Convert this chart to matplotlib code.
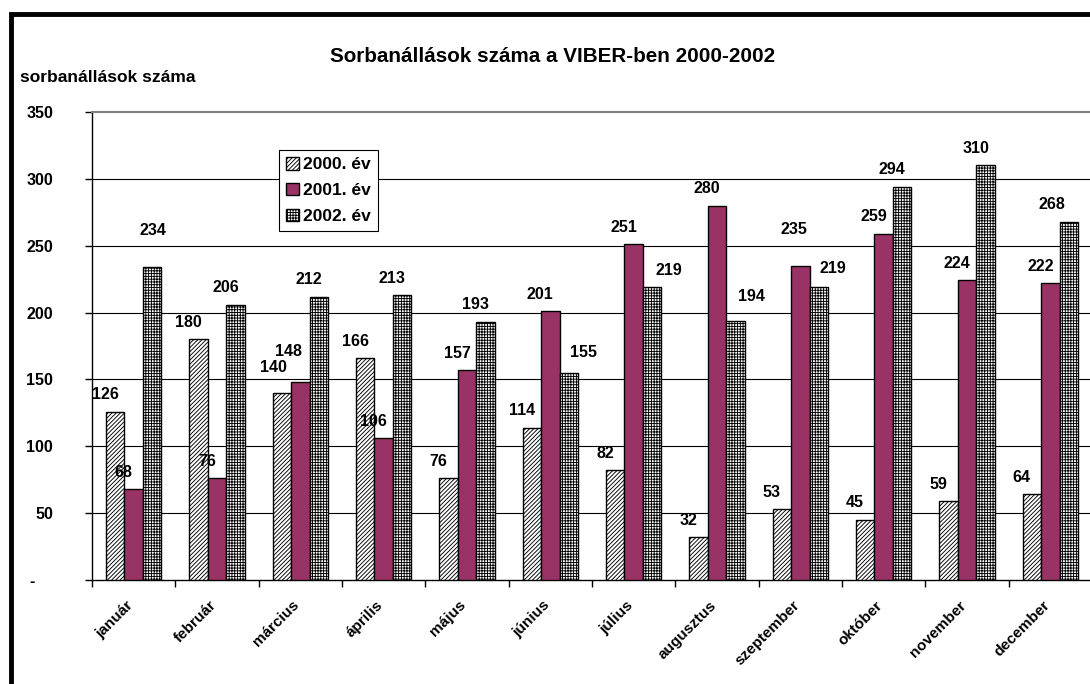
import matplotlib
matplotlib.use("Agg")
import matplotlib.pyplot as plt
import numpy as np
from matplotlib.patches import Rectangle
from matplotlib.transforms import ScaledTranslation

plt.rcParams['font.family'] = ['Liberation Sans', 'DejaVu Sans']
plt.rcParams['font.weight'] = 'bold'
plt.rcParams['hatch.linewidth'] = 0.65

months = ["január", "február", "március", "április", "május", "június",
          "július", "augusztus", "szeptember", "október", "november", "december"]
series_names = ["2000. év", "2001. év", "2002. év"]
v2000 = [126, 180, 140, 166, 76, 114, 82, 32, 53, 45, 59, 64]
v2001 = [68, 76, 148, 106, 157, 201, 251, 280, 235, 259, 224, 222]
v2002 = [234, 206, 212, 213, 193, 155, 219, 194, 219, 294, 310, 268]
yticks = [0, 50, 100, 150, 200, 250, 300, 350]

title = "Sorbanállások száma a VIBER-ben 2000-2002"
ylabel = "sorbanállások száma"

# bar styles: (facecolor, hatch)
styles = [("white", "////////"), ("#993366", None), ("white", "++++++")]

# label offsets in pixels (dx, dy); Excel left most labels a bit to the left
default_off = (-10, 17)
label_off = {
    (0, 2): (1, 37), (2, 0): (-8, 25), (2, 1): (-12, 31),
    (5, 2): (15, 20), (6, 2): (17, 17), (7, 2): (16, 24),
    (8, 1): (-6, 36), (8, 2): (14, 19), (11, 2): (-17, 17),
}

fig = plt.figure(figsize=(10.9, 6.84), dpi=100)
ax = fig.add_axes([92 / 1090, 104 / 684, 1000 / 1090, 468 / 684])

x = np.arange(len(months))
w = 1 / 4.5
data = [v2000, v2001, v2002]
for i, (vals, name, (fc, hatch)) in enumerate(zip(data, series_names, styles)):
    bars = ax.bar(x + (i - 1) * w, vals, w, facecolor=fc, edgecolor="black",
                  hatch=hatch, linewidth=1.0, label=name, zorder=3)
    for j, b in enumerate(bars):
        dx, dy = label_off.get((j, i), default_off)
        ax.annotate(str(vals[j]), (b.get_x() + b.get_width() / 2, b.get_height()),
                    xytext=(dx, dy), textcoords="offset pixels",
                    ha="center", va="center", fontsize=11.5, fontweight="bold", zorder=4)

ax.set_xlim(-0.5, len(months) - 0.5)
ax.set_ylim(0, 350)
ax.set_yticks(yticks)
ax.set_yticklabels(["-    "] + [str(t) for t in yticks[1:]], fontsize=11.5, fontweight="bold")
ax.tick_params(axis="y", direction="out", length=5, width=1, pad=23)

ax.set_xticks(np.arange(len(months) + 1) - 0.5)
ax.set_xticklabels([])
ax.tick_params(axis="x", which="major", direction="out", length=5, width=1)
ax.set_xticks(x, minor=True)
ax.set_xticklabels(months, minor=True, rotation=45, ha="right", va="top",
                   rotation_mode="anchor", fontsize=11, fontweight="bold")
ax.tick_params(axis="x", which="minor", length=0, pad=13)
shift = ScaledTranslation(-8 / 100, 0, fig.dpi_scale_trans)
for lab in ax.get_xticklabels(minor=True):
    lab.set_transform(lab.get_transform() + shift)

for t in yticks[1:-1]:
    ax.axhline(t, color="black", linewidth=0.8, zorder=1)
ax.spines["top"].set_color("#808080")
ax.spines["top"].set_linewidth(1.5)
ax.spines["right"].set_visible(False)
ax.spines["left"].set_linewidth(1)
ax.spines["bottom"].set_linewidth(1)

leg = ax.legend(loc="upper left", bbox_to_anchor=(0.187, 0.919), frameon=True,
                fancybox=False, framealpha=1, edgecolor="black",
                prop={"size": 12.5, "weight": "bold"}, handlelength=0.75,
                handleheight=0.75, handletextpad=0.25, labelspacing=0.6,
                borderpad=0.4, borderaxespad=0)
leg.get_frame().set_linewidth(0.8)

fig.text(553 / 1090, 1 - 57 / 684, title, ha="center", va="center",
         fontsize=14.9, fontweight="bold")
fig.text(20 / 1090, 1 - 77 / 684, ylabel, ha="left", va="center",
         fontsize=12.5, fontweight="bold")

# thick chart border (only left and top edges fall inside the picture)
fig.add_artist(Rectangle((10.5 / 1090, -0.2), 1.2, 1.2 - 14.5 / 684,
                         transform=fig.transFigure, fill=False,
                         edgecolor="black", linewidth=3.5))

fig.savefig("out.png", dpi=100)
